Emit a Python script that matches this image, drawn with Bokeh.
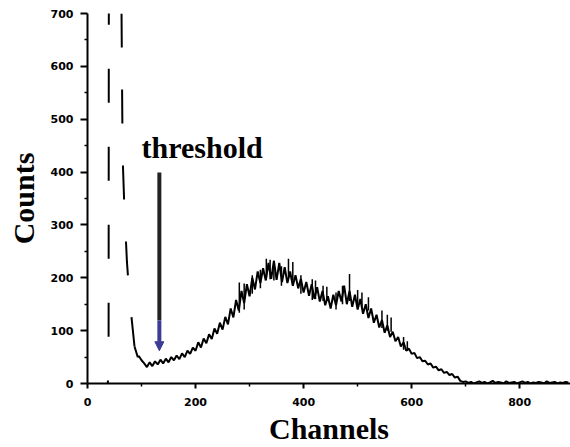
from bokeh.plotting import figure
from bokeh.models import Range1d, FixedTicker, Arrow, NormalHead, ColumnDataSource
from bokeh.core.properties import value
from bokeh.embed import file_html
from bokeh.resources import INLINE

# ---- data ----
rise_channels = [37, 39, 40]
rise_counts = [0, 8, 1500]
fall_channels = [63, 64, 65, 68, 73, 78, 82, 87]
fall_counts = [700, 560, 430, 340, 230, 160, 120, 70]

channels = [87, 93, 95, 100, 105, 110, 115, 120, 125, 130, 135, 140, 145, 150, 155, 160,
            165, 170, 175, 180, 185, 190, 195, 200, 205, 210, 215, 220, 225, 230, 235, 240, 245,
            250, 255, 260, 265, 270, 275, 280, 285, 290, 295, 300, 305, 310, 315, 320, 325, 330,
            335, 340, 345, 350, 355, 360, 365, 370, 375, 380, 385, 390, 395, 400, 405, 410,
            415, 420, 425, 430, 435, 440, 445, 450, 455, 460, 465, 470, 475, 480, 485, 490,
            495, 500, 505, 510, 515, 520, 525, 530, 535, 540, 545, 550, 555, 560, 565, 570,
            575, 580, 585, 590, 595, 600, 605, 610, 615, 620, 625, 630, 635, 640, 645, 650,
            655, 660, 665, 670, 675, 680, 685, 690, 695, 700, 705, 710, 715, 720, 725, 730,
            735, 740, 745, 750, 755, 760, 765, 770, 775, 780, 785, 790, 795, 800, 805, 810,
            815, 820, 825, 830, 835, 840, 845, 850, 855, 860, 865, 870, 875, 880, 885, 890]
counts = [70, 50, 52, 44, 38, 31, 40, 33, 42, 36, 45, 38, 47, 40, 50, 44,
          53, 46, 57, 50, 62, 56, 68, 62, 78, 68, 85, 76, 93, 84, 104, 94, 115,
          102, 126, 112, 142, 125, 158, 138, 175, 152, 188, 165, 200, 178, 212, 190, 218, 195,
          228, 198, 232, 196, 228, 192, 220, 190, 212, 185, 205, 180, 198, 172, 192, 166,
          188, 160, 182, 155, 175, 148, 165, 142, 168, 148, 175, 155, 185, 150, 175, 145,
          168, 140, 160, 132, 150, 124, 142, 115, 130, 106, 120, 96, 110, 88, 98, 80,
          88, 70, 78, 62, 66, 56, 58, 48, 50, 42, 43, 36, 38, 30, 32, 25,
          27, 20, 22, 16, 18, 11, 13, 5, 3, 4, 1, 3, 0, 2, 4, 1,
          3, 0, 2, 5, 1, 3, 2, 0, 4, 1, 2, 3, 0, 2, 4, 1,
          3, 0, 2, 1, 3, 2, 0, 4, 1, 2, 3, 0, 2, 1, 3, 2]

spike_channels = [281, 290, 305, 320, 331, 338, 345, 359, 372, 380, 395, 416, 422, 436,
                  443, 460, 472, 485, 500, 508, 520, 545, 555, 562, 585, 592]
spike_lows = [134, 140, 170, 180, 200, 197, 195, 185, 200, 195, 170, 158, 160, 156,
              158, 140, 150, 156, 148, 145, 138, 105, 100, 98, 64, 62]
spike_highs = [191, 189, 205, 215, 236, 234, 232, 222, 236, 230, 205, 197, 195, 185,
               183, 172, 185, 207, 177, 172, 163, 138, 130, 125, 88, 80]

x_ticks = [0, 200, 400, 600, 800]
x_minor_ticks = [100, 300, 500, 700]
y_ticks = [0, 100, 200, 300, 400, 500, 600, 700]
y_minor_ticks = [50, 150, 250, 350, 450, 550, 650]

threshold_label = "threshold"
threshold_text_x = 100
threshold_text_y = 446
threshold_channel = 133
threshold_arrow_top = 399
threshold_arrow_mid = 119
threshold_arrow_tip = 62

# ---- figure ----
p = figure(width=570, height=447, output_backend="svg", toolbar_location=None,
           x_range=Range1d(0, 894), y_range=Range1d(0, 700),
           min_border_left=87, min_border_right=0, min_border_top=13, min_border_bottom=64)
p.outline_line_color = None
p.grid.visible = False
p.background_fill_color = "white"

for ax in (p.xaxis[0], p.yaxis[0]):
    ax.axis_line_width = 2
    ax.axis_line_color = "black"
    ax.major_tick_line_width = 2
    ax.minor_tick_line_width = 1.5
    ax.major_tick_in = 0
    ax.minor_tick_in = 0
    ax.major_label_text_font = "DejaVu Sans"
    ax.major_label_text_font_style = "bold"
    ax.major_label_text_font_size = "11px"
    ax.major_label_text_color = "black"
    ax.axis_label_text_font = "Liberation Serif"
    ax.axis_label_text_font_style = "bold"
    ax.axis_label_text_font_size = "30px"
    ax.axis_label_text_color = "black"

p.xaxis.ticker = FixedTicker(ticks=x_ticks, minor_ticks=x_minor_ticks)
p.yaxis.ticker = FixedTicker(ticks=y_ticks, minor_ticks=y_minor_ticks)
p.xaxis.major_tick_out = 5
p.xaxis.minor_tick_out = 3
p.yaxis.major_tick_out = 7
p.yaxis.minor_tick_out = 3
p.xaxis.major_label_standoff = 9
p.yaxis.major_label_standoff = 7
p.xaxis.axis_label = "Channels"
p.yaxis.axis_label = "Counts"
p.xaxis.axis_label_standoff = 3
p.yaxis.axis_label_standoff = 8

# spectrum
p.line(rise_channels, rise_counts, line_color="black", line_width=2,
       line_dash="34 44", line_dash_offset=31)
p.line(fall_channels, fall_counts, line_color="black", line_width=2, line_dash="34 42")
p.line(channels, counts, line_color="black", line_width=2)
spikes = ColumnDataSource(dict(x=spike_channels, lo=spike_lows, hi=spike_highs))
p.segment(x0="x", y0="lo", x1="x", y1="hi", source=spikes, line_color="black", line_width=1.5)

# threshold annotation
p.text(x=[threshold_text_x], y=[threshold_text_y], text=[threshold_label],
       text_font=value("Liberation Serif"), text_font_style="bold", text_font_size="30px",
       text_color="black", text_baseline="alphabetic", text_align="left")
shaft = ColumnDataSource(dict(x0=[threshold_channel], y0=[threshold_arrow_top],
                              x1=[threshold_channel], y1=[threshold_arrow_mid]))
p.segment(x0="x0", y0="y0", x1="x1", y1="y1", source=shaft, line_color="#222222", line_width=4)
p.add_layout(Arrow(x_start=threshold_channel, y_start=threshold_arrow_mid,
                   x_end=threshold_channel, y_end=threshold_arrow_tip,
                   line_color="#3c3c96", line_width=4,
                   end=NormalHead(size=9, fill_color="#3c3c96", line_color="#3c3c96")))

open("out.html", "w").write(file_html(p, INLINE))
